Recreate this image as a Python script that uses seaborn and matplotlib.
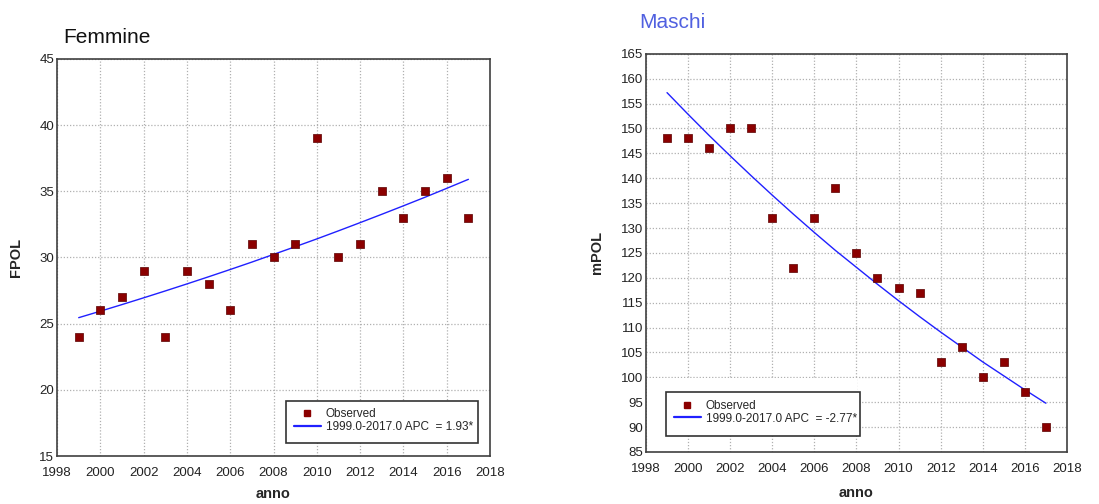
import matplotlib

matplotlib.use("Agg")
import matplotlib.pyplot as plt
import seaborn as sns
from matplotlib.lines import Line2D
from matplotlib.patches import Rectangle

years = list(range(1999, 2018))

# Femmine: observed values and fitted trend (APC 1.93)
f_observed = [24, 26, 27, 29, 24, 29, 28, 26, 31, 30, 31, 39, 30, 31, 35, 33, 35, 36, 33]
f_fitted = [25.45, 25.94, 26.44, 26.95, 27.47, 28.00, 28.54, 29.09, 29.65, 30.23,
            30.81, 31.40, 32.01, 32.63, 33.26, 33.90, 34.55, 35.22, 35.90]

# Maschi: observed values and fitted trend (APC -2.77)
m_observed = [148, 148, 146, 150, 150, 132, 122, 132, 138, 125, 120, 118, 117, 103, 106, 100, 103, 97, 90]
m_fitted = [157.2, 152.85, 148.6, 144.5, 140.5, 136.6, 132.8, 129.1, 125.5, 122.1,
            118.7, 115.4, 112.2, 109.1, 106.1, 103.1, 100.3, 97.5, 94.8]

x_ticks = list(range(1998, 2019, 2))
f_yticks = list(range(15, 46, 5))
m_yticks = list(range(85, 166, 5))

MARKER_COLOR = "#8b0000"
LINE_COLOR = "#2020ff"

sns.set_theme(style="white")
plt.rcParams["font.family"] = ["Liberation Sans", "DejaVu Sans"]

fig = plt.figure(figsize=(10.99, 5.04), dpi=100)
ax_f = fig.add_axes([0.0519, 0.0952, 0.394, 0.788])
ax_m = fig.add_axes([0.5878, 0.1032, 0.383, 0.790])


def draw_panel(ax, observed, fitted, yticks, ylabel, apc_label, legend_box, xpad, mask=None):
    ax.set_axisbelow(True)
    ax.grid(True, linestyle=(0, (1, 1.5)), color="#b0b0b0", linewidth=0.9)
    sns.lineplot(x=years, y=fitted, ax=ax, color=LINE_COLOR, linewidth=1.0, zorder=3)
    sns.scatterplot(x=years, y=observed, ax=ax, color=MARKER_COLOR, marker="s", s=28,
                    edgecolor="#5a0000", linewidth=0.5, zorder=4)
    ax.set_xlim(1998, 2018)
    ax.set_ylim(yticks[0], yticks[-1])
    ax.set_xticks(x_ticks)
    ax.set_yticks(yticks)
    ax.tick_params(axis="both", labelsize=9.5, colors="#222222", length=0)
    ax.tick_params(axis="x", pad=8)
    ax.tick_params(axis="y", pad=2)
    for spine in ax.spines.values():
        spine.set_color("#404040")
        spine.set_linewidth(1.2)
    ax.set_xlabel("anno", fontsize=10.5, fontweight="bold", labelpad=xpad)
    ax.set_ylabel(ylabel, fontsize=10.5, fontweight="bold", labelpad=12)

    if mask is not None:
        ax.add_patch(Rectangle(mask[:2], mask[2], mask[3], transform=ax.transAxes,
                               facecolor="white", edgecolor="none", zorder=1.5))

    x0, y0, w, h = legend_box
    ax.add_patch(Rectangle((x0, y0), w, h, transform=ax.transAxes, facecolor="white",
                           edgecolor="#333333", linewidth=1.2, zorder=5))
    handles = [
        Line2D([], [], linestyle="none", marker="s", markersize=4.5, color=MARKER_COLOR),
        Line2D([], [], color=LINE_COLOR, linewidth=1.6),
    ]
    leg = ax.legend(handles, ["Observed", apc_label], loc="upper left",
                    bbox_to_anchor=(x0, y0 + h), frameon=False, fontsize=8.5,
                    handlelength=2.3, handletextpad=0.4, labelspacing=0.05,
                    borderaxespad=0.25)
    leg.set_zorder(6)


draw_panel(ax_f, f_observed, f_fitted, f_yticks, "FPOL",
           "1999.0-2017.0 APC  = 1.93*", (0.529, 0.033, 0.443, 0.106), xpad=6)
draw_panel(ax_m, m_observed, m_fitted, m_yticks, "mPOL",
           "1999.0-2017.0 APC  = -2.77*", (0.048, 0.040, 0.46, 0.11), xpad=8,
           mask=(0.002, 0.04, 0.50, 0.145))

fig.text(0.058, 0.915, "Femmine", fontsize=15, color="#111111")
fig.text(0.582, 0.945, "Maschi", fontsize=15, color="#5060e0")

fig.savefig("out.png", dpi=100)
